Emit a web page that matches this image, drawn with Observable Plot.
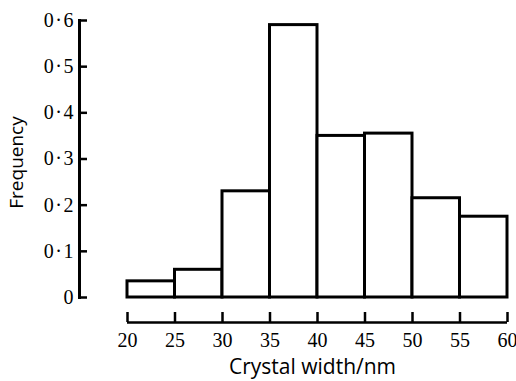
<!DOCTYPE html>
<html><head><meta charset="utf-8">
<script src="https://cdn.jsdelivr.net/npm/d3@7"></script>
<script src="https://cdn.jsdelivr.net/npm/@observablehq/plot@0.6"></script>
<style>
body{margin:0;background:#fff}
g[aria-label="y-axis tick label"] text{letter-spacing:1.5px}
</style>
</head><body><div id="chart"></div>
<script>
const binStart = [20, 25, 30, 35, 40, 45, 50, 55];
const binEnd = [25, 30, 35, 40, 45, 50, 55, 60];
const frequency = [0.035, 0.06, 0.23, 0.59, 0.35, 0.355, 0.215, 0.175];
const xTicks = [20, 25, 30, 35, 40, 45, 50, 55, 60];
const yTicks = [0, 0.1, 0.2, 0.3, 0.4, 0.5, 0.6];
const xLabel = "Crystal width/nm";
const yLabel = "Frequency";

const bars = binStart.map((s, i) => ({start: s, end: binEnd[i], freq: frequency[i]}));
const fmtY = d => d === 0 ? "0" : d3.format(".1f")(d).replace(".", "·");
const labelFont = "'Open Sans', sans-serif";

const chart = Plot.plot({
  width: 516, height: 381,
  marginLeft: 79, marginTop: 20, marginBottom: 84, marginRight: 9,
  x: {domain: [xTicks[0], xTicks[xTicks.length - 1]], range: [127, 507]},
  y: {domain: [yTicks[0], yTicks[yTicks.length - 1]], range: [297, 20]},
  style: {fontFamily: "'Liberation Serif', serif", fontSize: "20px", color: "#000", background: "#fff"},
  marks: [
    Plot.frame({anchor: "left", stroke: "#000", strokeWidth: 3}),
    Plot.axisY(yTicks, {anchor: "left", tickSize: 8, dx: 8, tickFormat: () => "", strokeWidth: 2.5, label: null}),
    Plot.axisY(yTicks, {anchor: "left", tickSize: 0, tickPadding: 4.5, tickFormat: fmtY, label: null, fontSize: 20}),
    Plot.ruleY([0], {x1: xTicks[0], x2: xTicks[xTicks.length - 1], dy: 25, strokeWidth: 2.5, stroke: "#000"}),
    Plot.axisX(xTicks, {anchor: "bottom", tickSize: 10, dy: 15, tickFormat: () => "", strokeWidth: 2.5, label: null}),
    Plot.axisX(xTicks, {anchor: "bottom", tickSize: 0, tickPadding: 35, tickFormat: d => String(d), label: null, fontSize: 20}),
    Plot.rectY(bars, {x1: "start", x2: "end", y: "freq", fill: "#fff", stroke: "#000", strokeWidth: 3}),
    Plot.text([yLabel], {frameAnchor: "left", dx: -62.5, dy: 3.5, rotate: -90, textAnchor: "middle", lineAnchor: "middle", fontFamily: labelFont, fontSize: 19, fill: "#000"}),
    Plot.text([xLabel], {frameAnchor: "bottom", dx: 19, dy: 76, textAnchor: "middle", lineAnchor: "bottom", fontFamily: labelFont, fontSize: 21, fill: "#000"})
  ]
});
document.getElementById("chart").appendChild(chart);
</script>
</body></html>
